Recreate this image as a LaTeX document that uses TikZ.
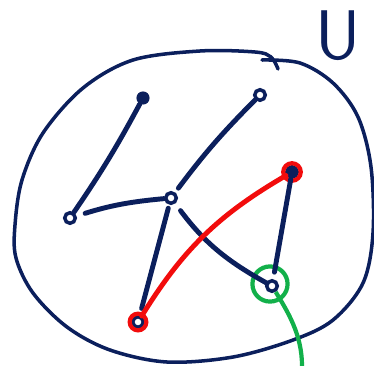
\documentclass[tikz,border=0pt]{standalone}
\usetikzlibrary{positioning}
\definecolor{navy}{HTML}{0B1F5C}
\definecolor{penred}{HTML}{F20C0C}
\definecolor{pengreen}{HTML}{12B04A}
\begin{document}
\begin{tikzpicture}[x=0.02cm, y=-0.02cm, edge/.style={draw=navy, line width=2.8pt, line cap=round}, vtx/.style={circle, draw=navy, line width=2pt, inner sep=0pt, minimum size=6pt}, dotvtx/.style={circle, fill=navy, inner sep=0pt, minimum size=7.5pt}, ring/.style={circle, line width=2.4pt, inner sep=0pt}]
\useasboundingbox (0,0) rectangle (374,365);

\draw[navy, line width=2pt, line cap=round] plot[smooth, tension=0.55] coordinates {(262,60) (300,63) (333,83) (358,117) (371,167) (373,233) (363,283) (333,320) (293,340) (233,357) (167,362) (110,350) (67,327) (33,293) (16,258) (15,225) (22,180) (43,133) (83,88) (133,60) (200,51) (255,52) (271,57) (278,69)};
\node[text=navy, font=\sffamily\fontsize{40}{40}\selectfont] (u) at (338,36) {U};

\node[dotvtx] (a) at (143,98) {}; \node[vtx] (b) at (260,95) {}; \node[vtx] (c) at (70,218) {};
\node[vtx] (d) at (171,198) {}; \node[vtx, fill=navy] (e) at (292,172) {}; \node[vtx] (f) at (138,322) {};
\node[vtx] (g) at (272,286) {};
\node[ring, draw=penred, minimum size=10pt] (ering) at (e) {}; \node[ring, draw=penred, minimum size=9.5pt] (fring) at (f) {};
\node[ring, draw=pengreen, minimum size=20pt] (gring) at (270,284) {};

\draw[edge] (a) to[bend left=3] (c); \draw[edge, shorten <=5pt] (c) to[bend left=6] (d);
\draw[edge, shorten <=3pt] (d) to[bend left=4] (b); \draw[edge, shorten <=2pt, shorten >=4pt] (d) to (f);
\draw[edge, shorten <=5pt] (d) to[bend right=12] (g); \draw[edge, shorten >=4pt] (e) to (g);
\draw[edge, draw=penred] (f) to[bend left=14] (e);
\coordinate (tail) at (302,366); \draw[pengreen, line width=2.4pt] (g) .. controls (288,312) and (302,335) .. (tail);
\end{tikzpicture}
\end{document}
